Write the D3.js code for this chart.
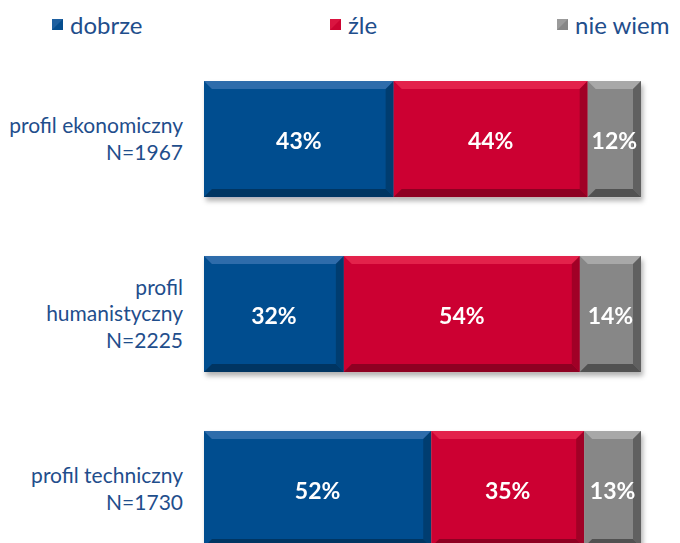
<!DOCTYPE html>
<html>
<head>
<meta charset="utf-8">
<script src="https://cdn.jsdelivr.net/npm/d3@7"></script>
<style>
  body { margin: 0; background: #fff; }
  svg { display: block; font-family: Lato, "Open Sans", sans-serif; }
</style>
</head>
<body>
<div id="chart"></div>
<script>
// categories (one bar each), label lines and N
const categories = ["ekonomiczny", "humanistyczny", "techniczny"];
const categoryLines = [
  ["profil ekonomiczny", "N=1967"],
  ["profil", "humanistyczny", "N=2225"],
  ["profil techniczny", "N=1730"]
];
const seriesNames = ["dobrze", "źle", "nie wiem"];
// shares in %, per category
const dobrze = [43.4, 32, 52];
const zle = [44.4, 54, 35];
const nieWiem = [12.2, 14, 13];

const colors = ["#064e8f", "#cc0331", "#878787"];
const lightEdge = ["#2f6cab", "#e3204b", "#a8a8a8"];
const darkEdge = ["#033562", "#8e0322", "#515151"];

const width = 680, height = 543;
const svg = d3.select("#chart").append("svg")
  .attr("width", width).attr("height", height);

const defs = svg.append("defs");
const f = defs.append("filter").attr("id", "shadow")
  .attr("x", "-5%").attr("y", "-5%").attr("width", "115%").attr("height", "130%");
f.append("feDropShadow").attr("dx", 2).attr("dy", 4).attr("stdDeviation", 2.5)
  .attr("flood-color", "#000").attr("flood-opacity", 0.3);

const x = d3.scaleLinear().domain([0, 100]).range([204, 641]);
const y = d3.scaleBand().domain(categories).range([81, 547]).paddingInner(0.337);

const rows = categories.map((c, i) => {
  const vals = [dobrze[i], zle[i], nieWiem[i]];
  let acc = 0;
  return vals.map((v, k) => {
    const seg = { cat: c, k, v, x0: acc, x1: acc + v };
    acc += v;
    return seg;
  });
});

const bev = 8;
rows.forEach(row => {
  const g = svg.append("g").attr("filter", "url(#shadow)");
  row.forEach(s => {
    const x0 = x(s.x0), x1 = x(s.x1), y0 = y(s.cat), y1 = y0 + y.bandwidth();
    const sg = g.append("g");
    sg.append("rect").attr("x", x0).attr("y", y0)
      .attr("width", x1 - x0).attr("height", y1 - y0).attr("fill", colors[s.k]);
    // bevel faces
    sg.append("polygon").attr("fill", lightEdge[s.k])
      .attr("points", [[x0, y0], [x1, y0], [x1 - bev, y0 + bev], [x0 + bev, y0 + bev]].join(" "));
    sg.append("polygon").attr("fill", darkEdge[s.k])
      .attr("points", [[x0, y1], [x1, y1], [x1 - bev, y1 - bev], [x0 + bev, y1 - bev]].join(" "));
    sg.append("polygon").attr("fill", darkEdge[s.k]).attr("opacity", 0.7)
      .attr("points", [[x1, y0], [x1 - bev, y0 + bev], [x1 - bev, y1 - bev], [x1, y1]].join(" "));
    sg.append("text")
      .attr("x", (x0 + x1) / 2).attr("y", (y0 + y1) / 2 + 2)
      .attr("dy", "0.36em").attr("text-anchor", "middle")
      .attr("fill", "#fff").attr("font-weight", "bold").attr("font-size", 23)
      .text(d3.format(".0f")(s.v) + "%");
  });
});

// category labels
categories.forEach((c, i) => {
  const lines = categoryLines[i];
  const cy = y(c) + y.bandwidth() / 2;
  const lh = 26.5;
  const t = svg.append("text").attr("text-anchor", "end")
    .attr("fill", "#1f4e8c").attr("font-size", 21);
  lines.forEach((l, j) => {
    t.append("tspan").attr("x", 183)
      .attr("y", cy + (j - (lines.length - 1) / 2) * lh)
      .attr("dy", "0.35em").text(l);
  });
});

// legend
const legendX = [52, 330, 557];
seriesNames.forEach((n, k) => {
  const g = svg.append("g").attr("transform", `translate(${legendX[k]},19)`);
  g.append("rect").attr("width", 11).attr("height", 11).attr("fill", colors[k]);
  g.append("polygon").attr("points", "0,0 11,0 0,11").attr("fill", lightEdge[k]).attr("opacity", 0.6);
  g.append("text").attr("x", 18).attr("y", 7).attr("dy", "0.35em")
    .attr("fill", "#1f4e8c").attr("font-size", 24).text(n);
});
</script>
</body>
</html>
